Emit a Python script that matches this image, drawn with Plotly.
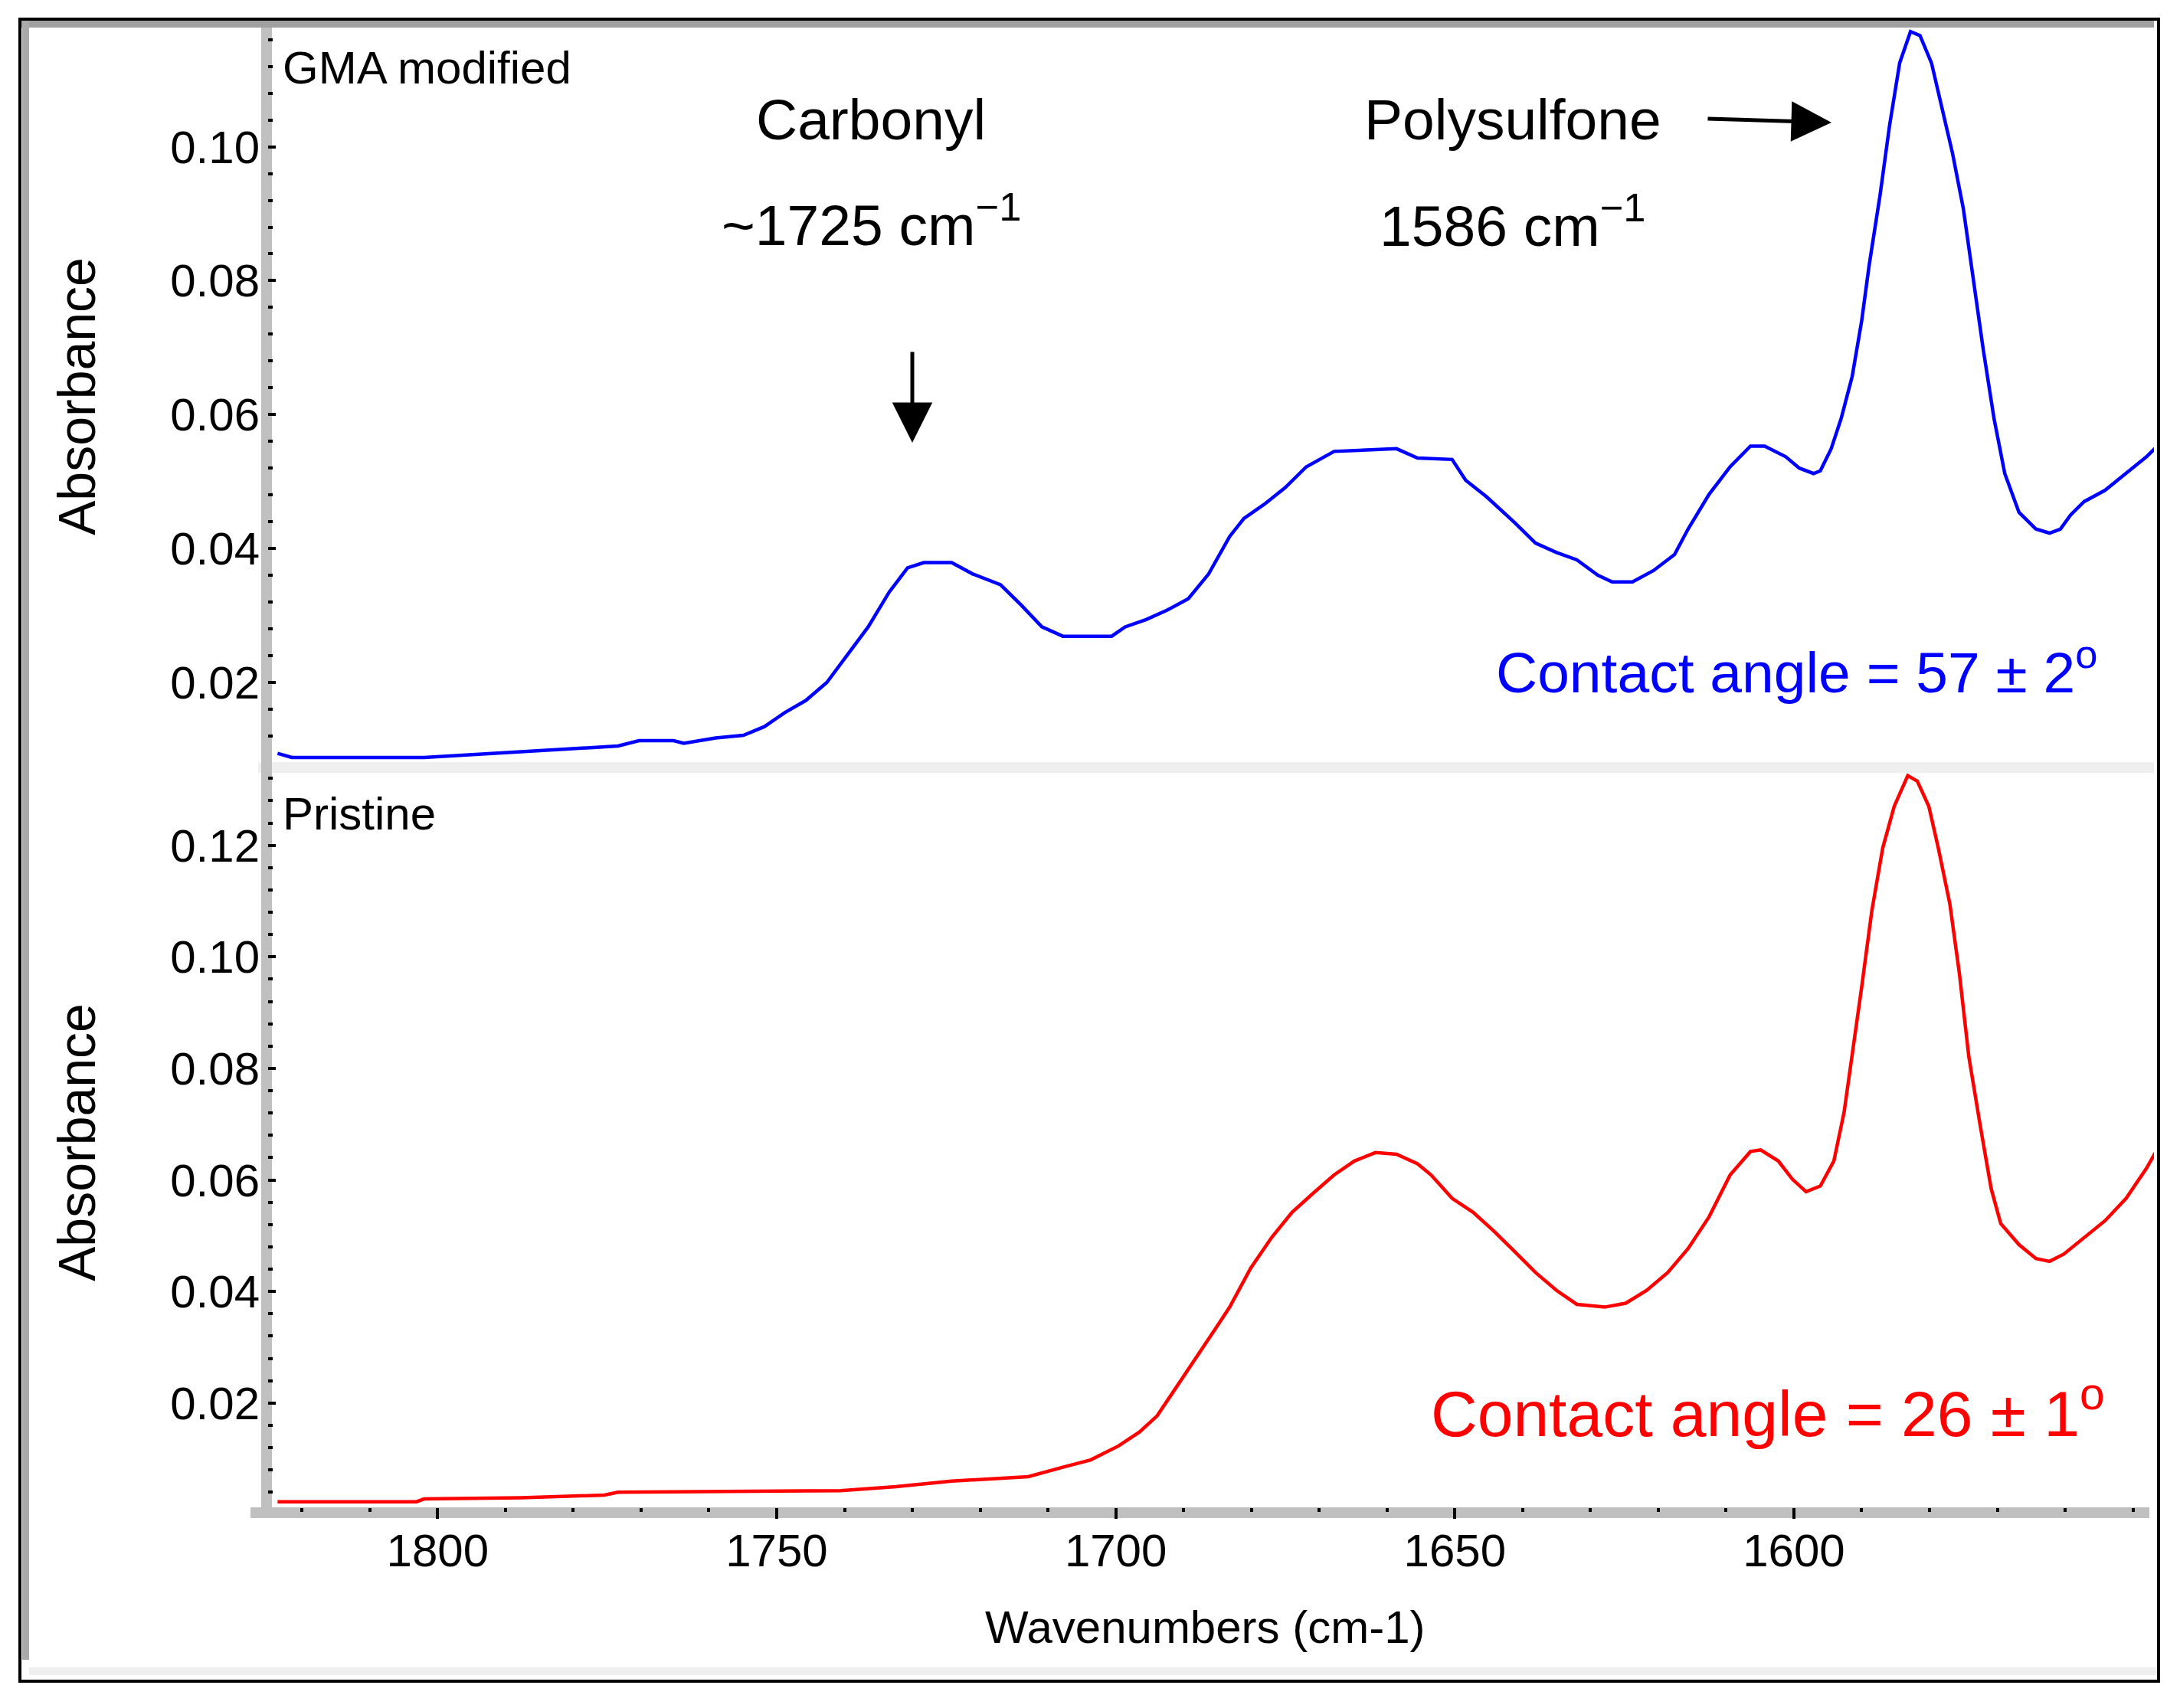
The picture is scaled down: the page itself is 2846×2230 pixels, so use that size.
import plotly.graph_objects as go

# GMA modified membrane (blue, upper panel)
gma_wavenumber = [1823.6, 1821.5, 1802.0, 1791.8, 1781.6, 1773.4, 1770.3, 1765.2, 1763.7, 1759.0,
                  1754.9, 1751.8, 1748.8, 1745.7, 1742.6, 1739.5, 1736.5, 1733.4, 1730.7, 1728.3,
                  1724.2, 1721.1, 1717.0, 1713.9, 1710.9, 1707.8, 1700.6, 1698.6, 1695.5, 1692.4,
                  1689.3, 1686.3, 1683.2, 1681.1, 1678.1, 1675.0, 1671.9, 1667.8, 1658.6, 1655.5,
                  1650.4, 1648.4, 1645.3, 1641.2, 1638.1, 1635.0, 1632.0, 1628.9, 1626.8, 1623.8,
                  1620.7, 1617.6, 1615.6, 1612.5, 1609.4, 1606.4, 1604.3, 1601.2, 1599.2, 1597.1,
                  1596.1, 1594.5, 1593.0, 1591.4, 1590.0, 1588.9, 1587.3, 1585.9, 1584.4, 1582.8,
                  1581.4, 1579.7, 1578.3, 1576.6, 1575.0, 1573.6, 1572.1, 1570.5, 1568.9, 1566.8,
                  1564.3, 1562.3, 1560.7, 1559.2, 1557.2, 1554.1, 1551.0, 1548.0, 1545.9]
gma_absorbance = [0.0094, 0.0088, 0.0088, 0.0094, 0.0101, 0.0105, 0.0113, 0.0113, 0.0109, 0.0117,
                  0.0121, 0.0134, 0.0155, 0.0173, 0.0200, 0.0242, 0.0283, 0.0335, 0.0371, 0.0379,
                  0.0379, 0.0362, 0.0346, 0.0315, 0.0283, 0.0269, 0.0269, 0.0283, 0.0294, 0.0308,
                  0.0325, 0.0362, 0.0418, 0.0445, 0.0466, 0.0491, 0.0522, 0.0545, 0.0549, 0.0535,
                  0.0533, 0.0502, 0.0477, 0.0439, 0.0408, 0.0394, 0.0383, 0.0360, 0.0350, 0.0350,
                  0.0367, 0.0391, 0.0429, 0.0481, 0.0522, 0.0553, 0.0553, 0.0537, 0.0520, 0.0512,
                  0.0516, 0.0549, 0.0595, 0.0657, 0.0740, 0.0823, 0.0927, 0.1031, 0.1125, 0.1172,
                  0.1166, 0.1125, 0.1062, 0.0990, 0.0907, 0.0803, 0.0699, 0.0595, 0.0512, 0.0454,
                  0.0429, 0.0423, 0.0429, 0.0450, 0.0470, 0.0487, 0.0512, 0.0537, 0.0558]

# Pristine membrane (red, lower panel)
pristine_wavenumber = [1823.6, 1803.1, 1802.0, 1787.7, 1775.4, 1773.4, 1740.6, 1732.4, 1724.2, 1712.9,
                       1707.8, 1703.7, 1699.6, 1696.5, 1693.9, 1691.4, 1688.3, 1685.2, 1683.2, 1680.1,
                       1677.0, 1674.0, 1670.9, 1667.8, 1664.8, 1661.7, 1658.6, 1655.5, 1653.5, 1650.4,
                       1647.3, 1644.3, 1641.2, 1638.1, 1635.0, 1632.0, 1627.9, 1624.8, 1621.7, 1618.6,
                       1615.6, 1612.5, 1609.4, 1606.4, 1604.9, 1602.3, 1600.2, 1598.2, 1596.1, 1594.1,
                       1592.6, 1591.4, 1590.0, 1588.5, 1586.9, 1585.2, 1583.2, 1581.8, 1580.1, 1578.7,
                       1577.0, 1575.6, 1574.2, 1572.5, 1570.9, 1569.5, 1566.8, 1564.3, 1562.3, 1560.2,
                       1557.2, 1554.1, 1551.0, 1548.0, 1545.9]
pristine_absorbance = [0.0023, 0.0023, 0.0028, 0.0030, 0.0035, 0.0040, 0.0043, 0.0050, 0.0060, 0.0068,
                       0.0085, 0.0098, 0.0123, 0.0148, 0.0177, 0.0222, 0.0277, 0.0335, 0.0372, 0.0442,
                       0.0497, 0.0542, 0.0576, 0.0609, 0.0634, 0.0649, 0.0646, 0.0629, 0.0609, 0.0567,
                       0.0542, 0.0509, 0.0472, 0.0434, 0.0402, 0.0377, 0.0372, 0.0379, 0.0402, 0.0434,
                       0.0477, 0.0534, 0.0609, 0.0651, 0.0654, 0.0634, 0.0601, 0.0579, 0.0589, 0.0634,
                       0.0721, 0.0821, 0.0946, 0.1083, 0.1195, 0.1270, 0.1325, 0.1315, 0.1270, 0.1195,
                       0.1095, 0.0971, 0.0821, 0.0696, 0.0584, 0.0522, 0.0484, 0.0459, 0.0454, 0.0467,
                       0.0497, 0.0527, 0.0567, 0.0621, 0.0666]

x_ticks = [1800, 1750, 1700, 1650, 1600]
gma_y_ticks = [0.02, 0.04, 0.06, 0.08, 0.10]
pristine_y_ticks = [0.02, 0.04, 0.06, 0.08, 0.10, 0.12]

W, H = 2846, 2230
font = "Liberation Sans, Arial, sans-serif"


def px_x(v):
    return v / W


def px_y(v):
    return 1 - v / H


fig = go.Figure()
fig.add_trace(go.Scatter(x=gma_wavenumber, y=gma_absorbance, mode="lines",
                         line=dict(color="#0000ff", width=4.5), xaxis="x", yaxis="y",
                         showlegend=False))
fig.add_trace(go.Scatter(x=pristine_wavenumber, y=pristine_absorbance, mode="lines",
                         line=dict(color="#ff0000", width=4.5), xaxis="x2", yaxis="y2",
                         showlegend=False))

x_dom = [px_x(350), px_x(2812)]
x_range = [1825.0, 1546.9]

y_common = dict(
    showgrid=False, zeroline=False, showline=False,
    ticks="inside", ticklen=10, tickwidth=4, tickcolor="black",
    minor=dict(ticks="inside", ticklen=6, tickwidth=4, tickcolor="black", dtick=0.004, tick0=0),
    tickformat=".2f", ticklabelstandoff=10,
    tickfont=dict(family=font, size=60, color="black"),
)

fig.update_layout(
    width=W, height=H,
    margin=dict(l=0, r=0, t=0, b=0, pad=0),
    paper_bgcolor="white",
    plot_bgcolor="rgba(0,0,0,0)",
    font=dict(family=font, color="black"),
    xaxis=dict(domain=x_dom, range=x_range, anchor="y", showgrid=False, zeroline=False,
               showline=False, showticklabels=False, ticks=""),
    yaxis=dict(domain=[px_y(995), px_y(36)], range=[0.0081, 0.1178], anchor="x",
               tickvals=gma_y_ticks, **y_common),
    xaxis2=dict(domain=x_dom, range=x_range, anchor="y2", matches="x", showgrid=False,
                zeroline=False, showline=False, tickvals=x_ticks,
                ticks="outside", ticklen=14, tickwidth=4, tickcolor="black",
                minor=dict(ticks="outside", ticklen=5, tickwidth=4, tickcolor="black", dtick=10, tick0=0),
                ticklabelstandoff=-10,
                tickfont=dict(family=font, size=60, color="black")),
    yaxis2=dict(domain=[px_y(1968), px_y(1009)], range=[0.0013, 0.1330], anchor="x2",
                tickvals=pristine_y_ticks, **y_common),
)


def band(x0, y0, x1, y1, color):
    fig.add_shape(type="rect", xref="paper", yref="paper",
                  x0=px_x(x0), x1=px_x(x1), y0=px_y(y1), y1=px_y(y0),
                  fillcolor=color, line_width=0, layer="below")


# frame and axis bands
band(28, 27, 2812, 36, "#a0a0a0")
band(29, 27, 38, 2167, "#aaaaaa")
band(38, 2177, 2816, 2187, "#efefef")
band(337, 995, 2812, 1009, "#efefef")
band(341, 36, 355, 1975, "#c0c0c0")
band(327, 1968, 2806, 1982, "#c0c0c0")
fig.add_shape(type="rect", xref="paper", yref="paper",
              x0=px_x(26), x1=px_x(2818), y0=px_y(2195), y1=px_y(25),
              line=dict(color="black", width=4), fillcolor="rgba(0,0,0,0)", layer="above")


def label(text, x, y, size, color="black", xanchor="center", angle=0):
    fig.add_annotation(text=text, x=px_x(x), y=px_y(y), xref="paper", yref="paper",
                       xanchor=xanchor, yanchor="middle", showarrow=False, textangle=angle,
                       font=dict(family=font, size=size, color=color))


label("GMA modified", 367, 88, 60, xanchor="left")
label("Pristine", 367, 1062, 60, xanchor="left")
label("Absorbance", 100, 518, 68, angle=-90)
label("Absorbance", 100, 1492, 68, angle=-90)
label("Wavenumbers (cm-1)", 1573, 2124, 60)
label("Carbonyl", 1137, 156, 75)
label("~1725 cm<sup>\u22121</sup>", 1137, 288, 75)
label("Polysulfone", 1975, 156, 75)
label("1586 cm<sup>\u22121</sup>", 1975, 289, 75)
label("Contact angle = 57 \u00b1 2<sup>o</sup>", 2740, 872, 75, color="#0000ff", xanchor="right")
label("Contact angle = 26 \u00b1 1<sup>o</sup>", 2750, 1840, 84, color="#ff0000", xanchor="right")

# arrows
fig.add_annotation(text="", x=px_x(1191), y=px_y(578), xref="paper", yref="paper",
                   ax=0, ay=-120, showarrow=True, arrowhead=2, arrowsize=2.1, arrowwidth=5,
                   arrowcolor="black", standoff=0)
fig.add_annotation(text="", x=px_x(2391), y=px_y(160), xref="paper", yref="paper",
                   ax=-163, ay=-5, showarrow=True, arrowhead=2, arrowsize=2.1, arrowwidth=5,
                   arrowcolor="black", standoff=0)

fig.write_html("out.html", config={"displayModeBar": False},
               post_script="document.body.style.margin = '0';")
